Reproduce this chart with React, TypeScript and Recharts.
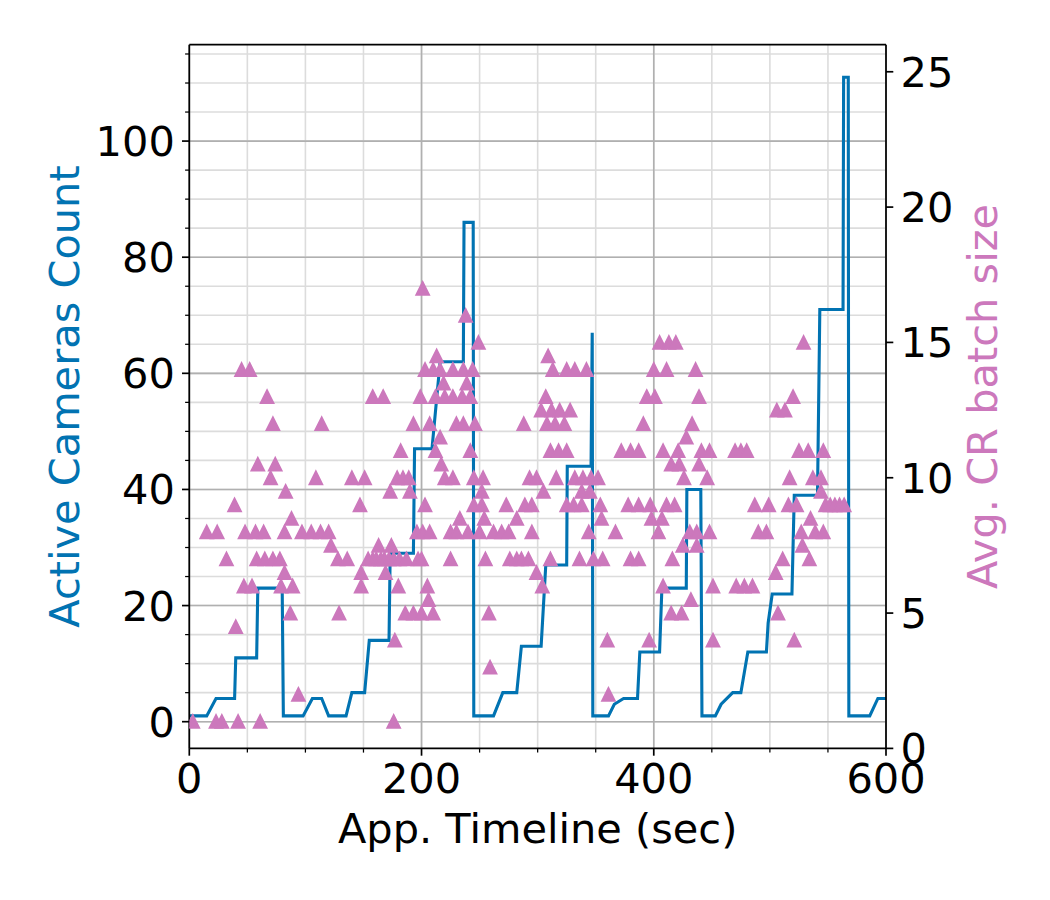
import { ComposedChart, Line, Scatter, XAxis, YAxis, CartesianGrid } from "recharts";

// Active cameras over the app timeline (seconds)
const cameraTimes = [
  0, 15, 23, 39, 40, 58, 59, 80, 81, 98, 106, 114, 120, 135, 140, 151, 155, 172, 173, 193,
  194, 209, 216, 236, 236.6, 244.5, 245, 262, 270, 282, 286, 303, 307, 325, 325.5, 346, 347, 347.5, 361, 366,
  374, 386, 388, 405, 407, 428, 428.5, 440.5, 441.5, 453, 458, 468, 475, 481, 497, 498.5, 502, 519, 521, 541,
  543, 563, 563.5, 567.5, 568, 586, 593, 600,
];
const cameraCounts = [
  1, 1, 4, 4, 11, 11, 23, 23, 1, 1, 4, 4, 1, 1, 5, 5, 14, 14, 29, 29,
  47, 47, 62, 62, 86, 86, 1, 1, 5, 5, 13, 13, 27, 27, 44, 44, 67, 1, 1, 3,
  4, 4, 12, 12, 23, 23, 40, 40, 1, 1, 3, 5, 5, 12, 12, 17, 22, 22, 39, 39,
  71, 71, 111, 111, 1, 1, 4, 4,
];

// Average CR batch size samples: [time (sec), batch size]
const batchSamples: [number, number][] = [
  [3, 1], [15, 8], [23, 1], [24, 8], [28, 1], [32, 7], [39, 9], [40, 4.5], [42, 1], [45, 14],
  [47, 6], [48, 8], [52, 14], [54, 6], [57, 8], [58, 7], [59, 10.5], [61, 1], [64, 8], [65, 7],
  [67, 13], [70, 10], [72, 7], [72, 12], [74, 10.5], [78, 7], [79, 6], [82, 8], [82, 6.5], [83, 9.5],
  [87, 5], [88, 8.5], [89, 6], [94, 2], [97, 8], [105, 8], [109, 10], [113, 8], [114, 12], [120, 8],
  [122, 7.5], [128, 7], [129, 5], [136, 7], [140, 10], [147, 9], [148, 6.5], [148, 6], [151, 10], [154, 7],
  [158, 7], [158, 13], [161, 7], [163, 7.5], [165, 7], [167, 13], [168, 7], [169, 6.5], [172, 7], [173, 9.5],
  [174, 7.5], [176, 7], [176, 1], [177, 4], [179, 10], [180, 6], [181, 7], [182, 11], [184, 10], [186, 5],
  [187, 7], [189, 10], [190, 9.5], [193, 5], [193, 12], [196, 8], [197, 7], [199, 13], [200, 5], [200, 7],
  [201, 8], [201, 17], [203, 14], [203, 9], [205, 6], [206, 5.5], [207, 8], [207, 12], [210, 14], [210, 5],
  [212, 11], [212, 13], [213, 14.5], [216, 14], [216, 11.5], [217, 10.5], [219, 13.5], [220, 13], [220, 10], [225, 8],
  [225, 7], [227, 14], [227, 13], [227, 10], [230, 12], [230, 8], [233, 8.5], [235, 13], [236, 14], [236, 12],
  [238, 16], [239, 13.5], [240, 8], [242, 13], [242, 11], [244, 14], [245, 10], [245, 9], [246, 12], [249, 15],
  [250, 8], [252, 9.5], [252, 9], [253, 10], [254, 8.5], [255, 7], [258, 5], [259, 3], [262, 8], [269, 8],
  [273, 9], [275, 8], [276, 7], [282, 8.5], [282, 7], [286, 7], [288, 12], [289, 9], [292, 7], [293, 10],
  [295, 9], [295, 8], [299, 10], [299, 6.5], [303, 12.5], [304, 6], [305, 9.5], [307, 13], [308, 12], [309, 14.5],
  [311, 7], [311, 11], [312, 12.5], [313, 14], [315, 12], [316, 10], [318, 11], [319, 12.5], [323, 12], [325, 14],
  [325, 11], [325, 9], [328, 12.5], [331, 9], [332, 14], [332, 10], [336, 7], [338, 9.5], [338, 9], [339, 10],
  [342, 14], [344, 8], [345, 9.5], [346, 10], [348, 7], [352, 10], [354, 9], [355, 8.5], [356, 7], [360, 4],
  [361, 2], [367, 8], [372, 11], [378, 9], [380, 7], [380, 11], [387, 7], [387, 9], [387, 11], [391, 12],
  [394, 13], [396, 4], [397, 9], [398, 8.5], [400, 14], [401, 13], [404, 8], [405, 15], [407, 8.5], [408, 6],
  [408, 11], [411, 14], [411, 9], [413, 15], [415, 5], [415, 10.5], [416, 7], [418, 9], [419, 15], [421, 11],
  [422, 10.5], [424, 5], [425, 7.5], [426, 10], [428, 11.5], [431, 8], [432, 5.5], [433, 12], [436, 14], [437, 8],
  [437, 7.5], [439, 13], [439, 10.5], [441, 11], [446, 10], [448, 11], [448, 8], [451, 6], [451, 4], [470, 11],
  [471, 6], [475, 11], [478, 6], [480, 11], [485, 6], [487, 9], [490, 8], [497, 8], [499, 9], [505, 6.5],
  [506, 12.5], [507, 5], [511, 7], [513, 12.5], [516, 9], [517, 10], [520, 13], [521, 4], [523, 9], [525, 11],
  [527, 8], [528, 7.5], [529, 15], [533, 11], [534, 7], [535, 8.5], [537, 10], [539, 8], [544, 10], [544, 9.5],
  [546, 11], [546, 8], [548, 9], [552, 9], [556, 9], [560, 9], [564, 9],
];

const xTicks = [0, 50, 100, 150, 200, 250, 300, 350, 400, 450, 500, 550, 600];
const xMajor = [0, 200, 400, 600];
const leftTicks = [0, 5, 10, 15, 20, 25, 30, 35, 40, 45, 50, 55, 60, 65, 70, 75, 80, 85, 90, 95, 100, 105, 110, 115];
const leftMajor = [0, 20, 40, 60, 80, 100];
const rightTicks = [0, 5, 10, 15, 20, 25];

const cameraData = cameraTimes.map((t, i) => ({ t, n: cameraCounts[i] }));
const batchData = batchSamples.map(([t, b]) => ({ t, b }));

const BLUE = "#0173B2";
const PINK = "#CC78BC";
const FONT = "DejaVu Sans";
const FS = 41.5;
const spine = { stroke: "#000", strokeWidth: 1.7 };

function BottomTick(props: any) {
  const { x, y, payload } = props;
  const major = xMajor.includes(payload.value);
  return (
    <g>
      <line x1={x} x2={x} y1={y} y2={y + (major ? 7.3 : 4.2)} stroke="#000" strokeWidth={major ? 1.7 : 1.25} />
      {major && (
        <text x={x} y={y + 45} textAnchor="middle" fontFamily={FONT} fontSize={FS} fill="#000">
          {payload.value}
        </text>
      )}
    </g>
  );
}

function LeftTick(props: any) {
  const { x, y, payload } = props;
  const major = leftMajor.includes(payload.value);
  return (
    <g>
      <line x1={x - (major ? 7.3 : 4.2)} x2={x} y1={y} y2={y} stroke="#000" strokeWidth={major ? 1.7 : 1.25} />
      {major && (
        <text x={x - 14.5} y={y + 15} textAnchor="end" fontFamily={FONT} fontSize={FS} fill="#000">
          {payload.value}
        </text>
      )}
    </g>
  );
}

function RightTick(props: any) {
  const { x, y, payload } = props;
  return (
    <g>
      <line x1={x} x2={x + 7.3} y1={y} y2={y} stroke="#000" strokeWidth={1.7} />
      <text x={x + 14.5} y={y + 15} textAnchor="start" fontFamily={FONT} fontSize={FS} fill="#000">
        {payload.value}
      </text>
    </g>
  );
}

function Triangle(props: any) {
  const { cx, cy } = props;
  const r = 6.6;
  return (
    <polygon
      points={`${cx},${cy - r} ${cx - r},${cy + r} ${cx + r},${cy + r}`}
      fill={PINK}
      stroke={PINK}
      strokeWidth={1.6}
      strokeLinejoin="miter"
    />
  );
}

const xTitle = (props: any) => {
  const vb = props.viewBox;
  return (
    <text x={vb.x + vb.width / 2} y={vb.y + 95} textAnchor="middle" fontFamily={FONT} fontSize={FS} fill="#000">
      App. Timeline (sec)
    </text>
  );
};

const leftTitle = (props: any) => {
  const vb = props.viewBox;
  const cx = vb.x + 79;
  const cy = vb.y + vb.height / 2;
  return (
    <text x={cx} y={cy} transform={`rotate(-90, ${cx}, ${cy})`} textAnchor="middle" fontFamily={FONT} fontSize={FS} fill={BLUE}>
      Active Cameras Count
    </text>
  );
};

const rightTitle = (props: any) => {
  const vb = props.viewBox;
  const cx = vb.x + 111;
  const cy = vb.y + vb.height / 2;
  return (
    <text x={cx} y={cy} transform={`rotate(-90, ${cx}, ${cy})`} textAnchor="middle" fontFamily={FONT} fontSize={FS} fill={PINK}>
      Avg. CR batch size
    </text>
  );
};

export default function App() {
  return (
    <div style={{ position: "absolute", left: 0, top: 0, background: "#fff" }}>
      <ComposedChart width={1050} height={900} margin={{ top: 43.7, right: 0, bottom: 0, left: 0 }}>
        <CartesianGrid yAxisId="left" horizontalValues={leftTicks} verticalValues={xTicks} stroke="#dcdcdc" strokeWidth={1.6} />
        <CartesianGrid yAxisId="left" horizontalValues={leftMajor} verticalValues={xMajor} stroke="#b0b0b0" strokeWidth={1.6} />

        <Line
          data={cameraData}
          dataKey="n"
          yAxisId="left"
          type="linear"
          stroke={BLUE}
          strokeWidth={3.1}
          dot={false}
          activeDot={false}
          isAnimationActive={false}
        />
        <Scatter data={batchData} dataKey="b" yAxisId="right" shape={Triangle} isAnimationActive={false} />

        <XAxis
          dataKey="t"
          type="number"
          domain={[0, 600]}
          allowDataOverflow
          ticks={xTicks}
          interval={0}
          tickSize={0}
          tickMargin={0}
          tickLine={false}
          tick={BottomTick}
          height={151.6}
          axisLine={spine}
          label={{ value: "App. Timeline (sec)", content: xTitle }}
        />
        {/* top frame edge */}
        <XAxis
          xAxisId="top"
          orientation="top"
          type="number"
          domain={[0, 600]}
          allowDataOverflow
          height={1}
          ticks={xMajor}
          tick={false}
          tickLine={false}
          axisLine={spine}
        />
        <YAxis
          yAxisId="left"
          type="number"
          domain={[-4.6, 116.6]}
          allowDataOverflow
          ticks={leftTicks}
          interval={0}
          tickSize={0}
          tickMargin={0}
          tickLine={false}
          tick={LeftTick}
          width={189.3}
          axisLine={spine}
          label={{ value: "Active Cameras Count", content: leftTitle }}
        />
        <YAxis
          yAxisId="right"
          orientation="right"
          dataKey="b"
          type="number"
          domain={[0, 26]}
          allowDataOverflow
          ticks={rightTicks}
          interval={0}
          tickSize={0}
          tickMargin={0}
          tickLine={false}
          tick={RightTick}
          width={164}
          axisLine={spine}
          label={{ value: "Avg. CR batch size", content: rightTitle }}
        />
      </ComposedChart>
    </div>
  );
}
